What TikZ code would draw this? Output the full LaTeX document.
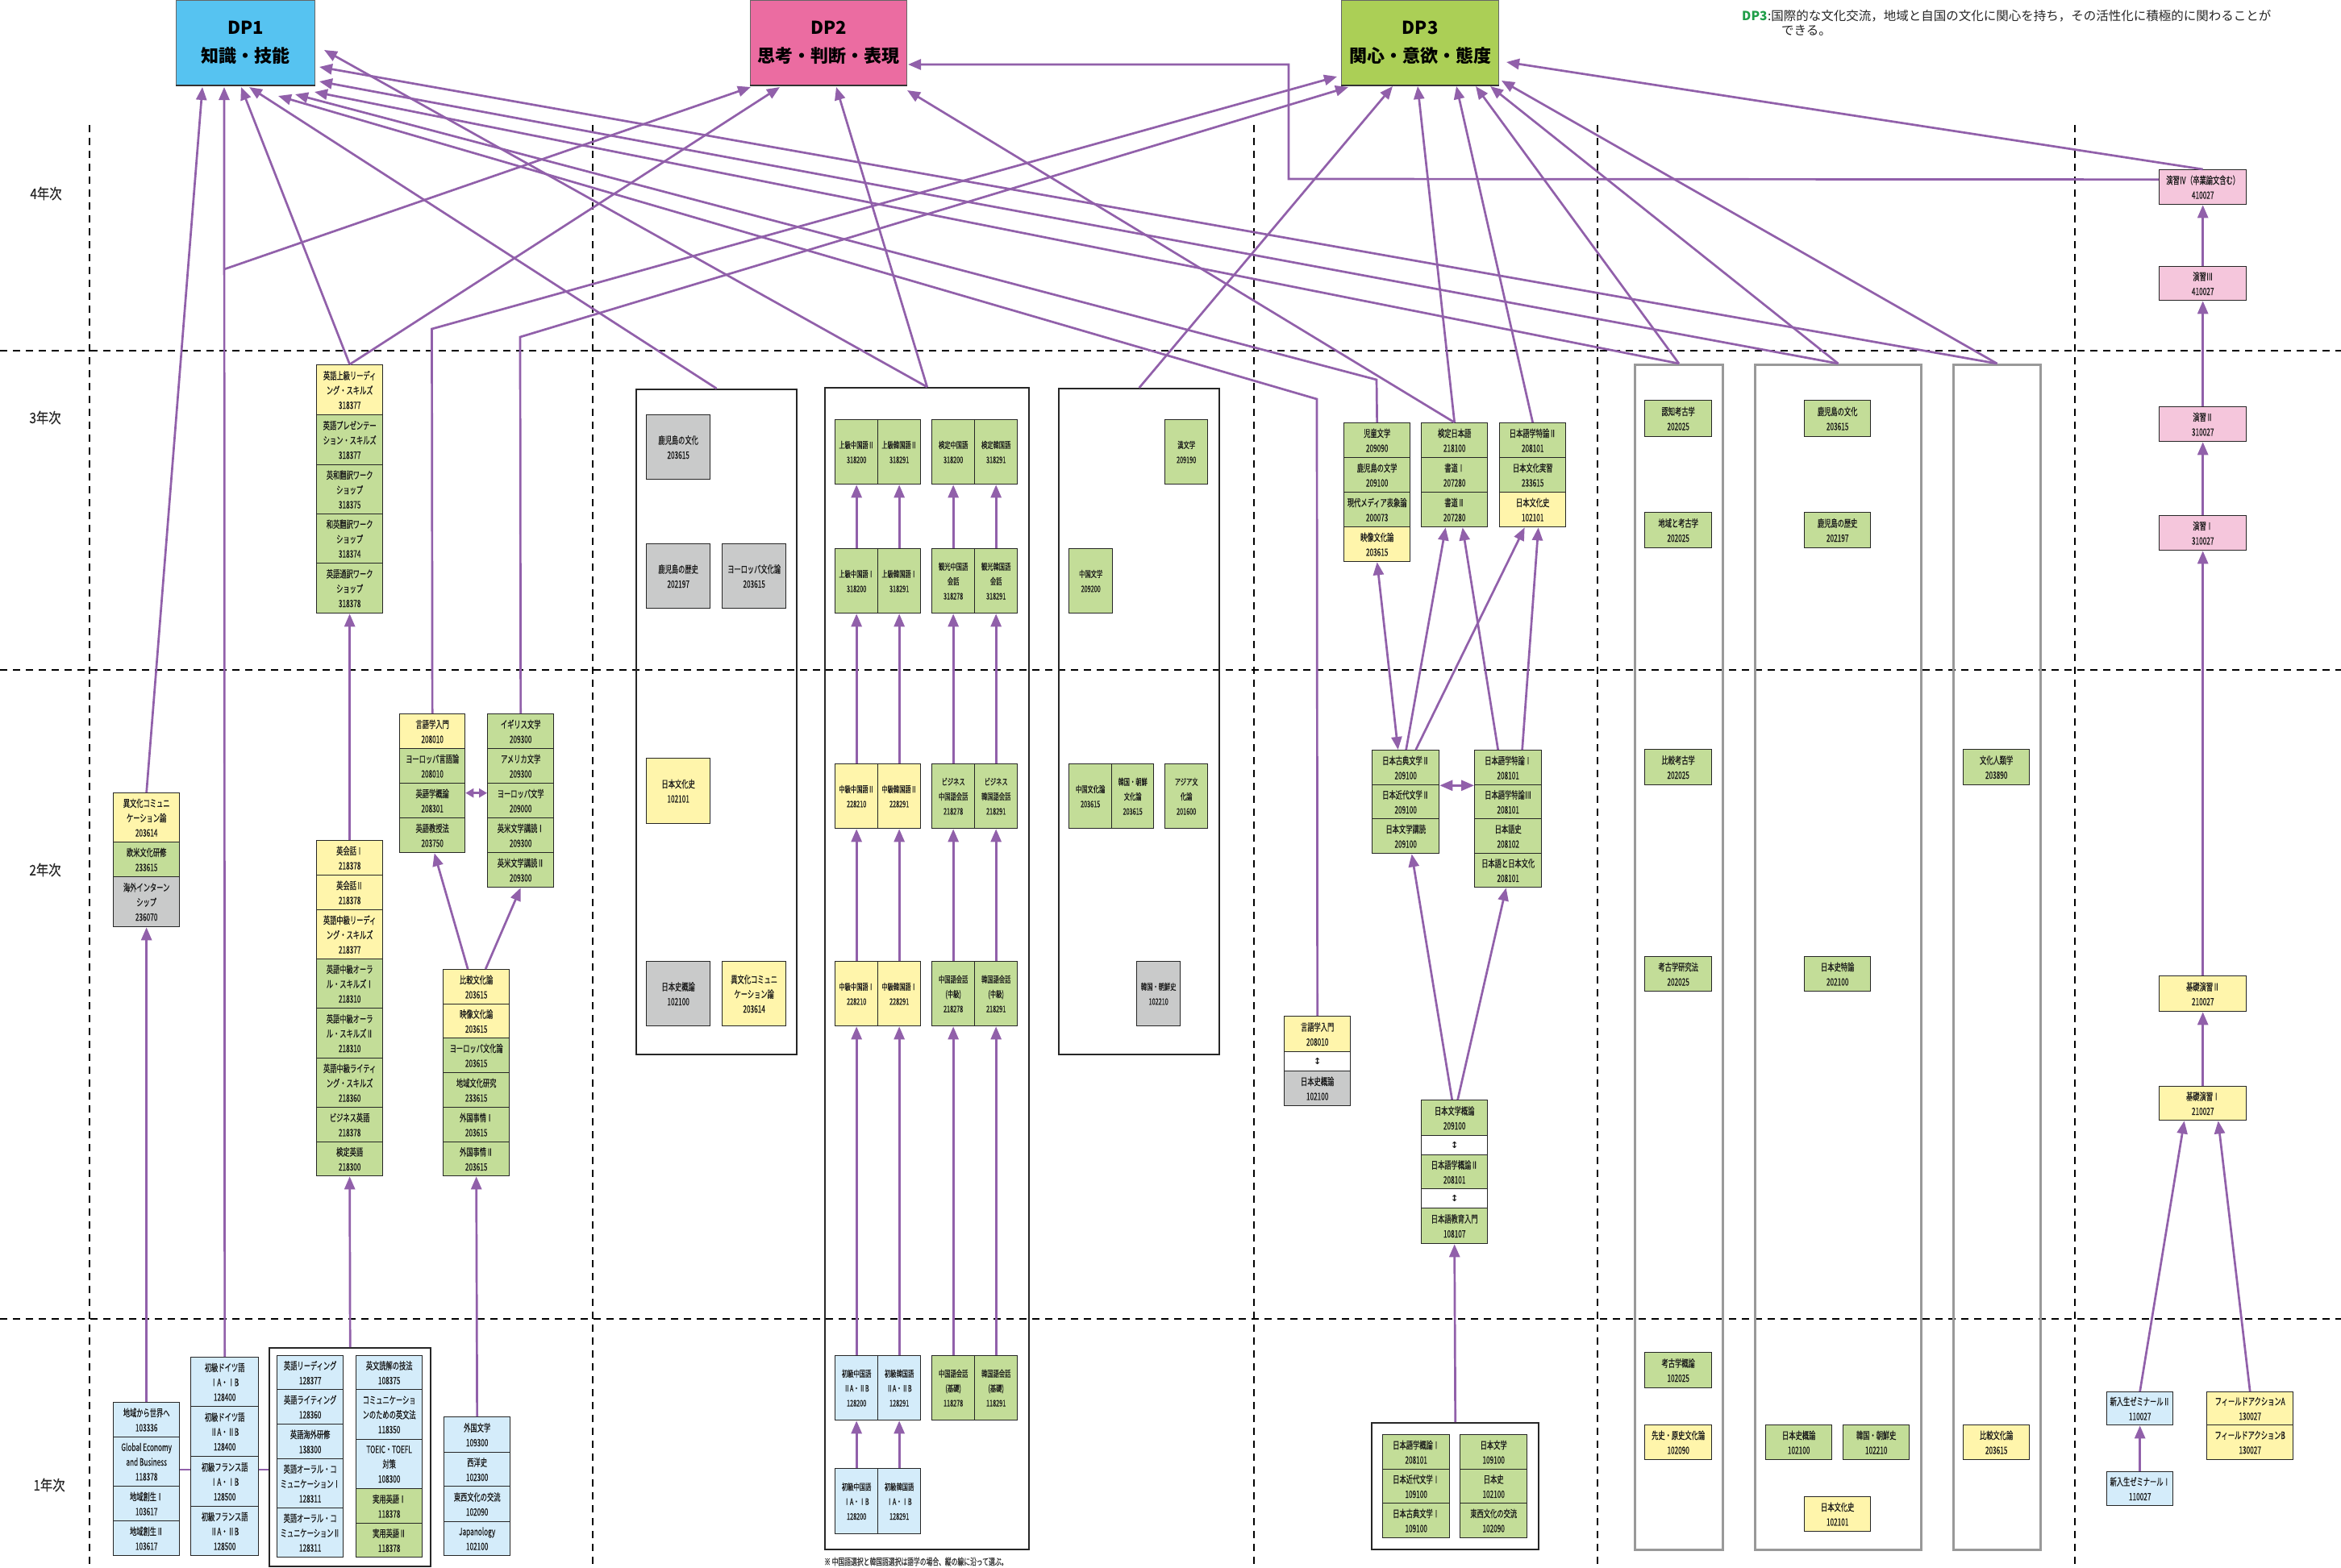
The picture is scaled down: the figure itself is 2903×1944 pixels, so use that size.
\documentclass[tikz,border=0pt]{standalone}
\usepackage{fontspec}
\usetikzlibrary{arrows.meta}
\newfontfamily\jp{Noto Sans CJK JP}[FakeStretch=0.66,FakeBold=0.4]
\newfontfamily\jpw{Noto Sans CJK JP}
\newfontfamily\jpy{Noto Sans CJK JP}[FakeStretch=0.85,FakeBold=0.4]
\newfontfamily\dvs{DejaVu Sans}
\definecolor{cY}{HTML}{FFF5AB}
\definecolor{cG}{HTML}{C3DD98}
\definecolor{cGr}{HTML}{C9CACA}
\definecolor{cB}{HTML}{D4ECFA}
\definecolor{cPk}{HTML}{F5C6DC}
\definecolor{cP}{HTML}{9160AA}
\definecolor{cDa}{HTML}{56C3F1}
\definecolor{cDb}{HTML}{EB6CA1}
\definecolor{cDc}{HTML}{ABCF56}
\definecolor{cNote}{HTML}{1F9E48}
\newcommand\bxf{\jp\fontsize{12.5}{18.3}\selectfont}
\newcommand\sbxf{\jp\fontsize{11}{18.3}\selectfont}
\newcommand\mkbox[8][]{%
  \pgfmathsetmacro\mkW{#5-#3}%
  \pgfmathsetmacro\mkH{#6-#4}%
  \node[sec,fill=#7,minimum width=\mkW pt,minimum height=\mkH pt,anchor=north west,#1] (#2) at (#3,#4) {#8};%
}
\newcommand\mkfrm[6][frm]{%
  \pgfmathsetmacro\mkW{#5-#3}%
  \pgfmathsetmacro\mkH{#6-#4}%
  \node[#1,minimum width=\mkW pt,minimum height=\mkH pt,anchor=north west] (#2) at (#3,#4) {};%
}
\tikzset{
 sec/.style={draw=black!85,line width=1.3pt,inner sep=0pt,align=center,font=\bxf,text=black!90},
 frm/.style={draw=black!85,line width=2.4pt,inner sep=0pt},
 gfrm/.style={draw=black!40,line width=3pt,inner sep=0pt},
 dpbox/.style={draw=black!60,line width=1.2pt,inner sep=0pt,align=center,text=black,font=\jpw\bfseries\fontsize{22}{35}\selectfont},
 arr/.style={draw=cP,line width=2.7pt,-{Triangle[length=16pt,width=13pt]}},
 dbl/.style={draw=cP,line width=2.7pt,{Triangle[length=16pt,width=13pt]}-{Triangle[length=16pt,width=13pt]}},
 dblsm/.style={draw=cP,line width=2.7pt,{Triangle[length=10pt,width=11pt]}-{Triangle[length=10pt,width=11pt]}},
 link/.style={draw=cP,line width=2.7pt},
 dsh/.style={draw=black,line width=2.2pt,dash pattern=on 9pt off 7pt},
 yr/.style={font=\jpy\fontsize{18}{20}\selectfont,text=black!85},
 sym/.style={font=\dvs\bfseries\fontsize{11}{12}\selectfont},
}
\begin{document}
\begin{tikzpicture}[x=1pt,y=-1pt]
\useasboundingbox (0,0) rectangle (2903,1944);
\fill[white] (0,0) rectangle (2903,1944);
% grid of years
\foreach \yy in {435,831,1636} \draw[dsh] (0,\yy) -- (2903,\yy);
\foreach \xx in {111,735,1555,1981,2573} \draw[dsh] (\xx,155) -- (\xx,1944);
\node[yr] (y4) at (57,240) {4年次};
\node[yr] (y3) at (56,518) {3年次};
\node[yr] (y2) at (56,1079) {2年次};
\node[yr] (y1) at (61,1842) {1年次};
% DP boxes
\node[dpbox,fill=cDa,minimum width=172pt,minimum height=105pt,anchor=north west] (dp1) at (218,0) {DP1\\知識・技能};
\node[dpbox,fill=cDb,minimum width=194pt,minimum height=105pt,anchor=north west] (dp2) at (930,0) {DP2\\思考・判断・表現};
\node[dpbox,fill=cDc,minimum width=195pt,minimum height=105pt,anchor=north west] (dp3) at (1663,0) {DP3\\関心・意欲・態度};
\foreach \d in {dp1,dp2,dp3} \draw[line width=2.5pt,black!80] (\d.south west) -- (\d.south east);
% note
\node[anchor=base west,font=\jpw\bfseries\fontsize{15.5}{18}\selectfont,text=cNote,inner sep=0pt] (noteh) at (2160,25) {DP3};
\node[anchor=base west,font=\jpw\fontsize{15.5}{18}\selectfont,text=black!85,inner sep=0pt] (note1) at (noteh.base east) {:国際的な文化交流，地域と自国の文化に関心を持ち，その活性化に積極的に関わることが};
\node[anchor=base west,font=\jpw\fontsize{15.5}{18}\selectfont,text=black!85,inner sep=0pt] (note2) at (2209,43) {できる。};
% ===== column 1 =====
\mkbox{A1}{140}{983}{222}{1044}{cY}{異文化コミュニ\\ケーション論\\203614}
\mkbox{A2}{140}{1044}{222}{1087}{cG}{欧米文化研修\\233615}
\mkbox{A3}{140}{1087}{222}{1149}{cGr}{海外インターン\\シップ\\236070}
\mkbox{B1}{140}{1739}{222}{1782}{cB}{地域から世界へ\\103336}
\mkbox{B2}{140}{1782}{222}{1843}{cB}{Global Economy\\and Business\\118378}
\mkbox{B3}{140}{1843}{222}{1886}{cB}{地域創生Ⅰ\\103617}
\mkbox{B4}{140}{1886}{222}{1929}{cB}{地域創生Ⅱ\\103617}
\mkbox{C1}{236}{1683}{320}{1744}{cB}{初級ドイツ語\\ⅠA・ⅠB\\128400}
\mkbox{C2}{236}{1744}{320}{1806}{cB}{初級ドイツ語\\ⅡA・ⅡB\\128400}
\mkbox{C3}{236}{1806}{320}{1868}{cB}{初級フランス語\\ⅠA・ⅠB\\128500}
\mkbox{C4}{236}{1868}{320}{1929}{cB}{初級フランス語\\ⅡA・ⅡB\\128500}
\mkfrm{frameD}{333}{1671}{533}{1942}
\mkbox{D1}{343}{1681}{425}{1723}{cB}{英語リーディング\\128377}
\mkbox{D2}{343}{1723}{425}{1766}{cB}{英語ライティング\\128360}
\mkbox{D3}{343}{1766}{425}{1809}{cB}{英語海外研修\\138300}
\mkbox{D4}{343}{1809}{425}{1870}{cB}{英語オーラル・コ\\ミュニケーションⅠ\\128311}
\mkbox{D5}{343}{1870}{425}{1931}{cB}{英語オーラル・コ\\ミュニケーションⅡ\\128311}
\mkbox{D6}{441}{1681}{523}{1723}{cB}{英文読解の技法\\108375}
\mkbox{D7}{441}{1723}{523}{1785}{cB}{コミュニケーショ\\ンのための英文法\\118350}
\mkbox{D8}{441}{1785}{523}{1846}{cB}{TOEIC・TOEFL\\対策\\108300}
\mkbox{D9}{441}{1846}{523}{1889}{cG}{実用英語Ⅰ\\118378}
\mkbox{D10}{441}{1889}{523}{1931}{cG}{実用英語Ⅱ\\118378}
\mkbox{E1}{550}{1757}{632}{1801}{cB}{外国文学\\109300}
\mkbox{E2}{550}{1801}{632}{1843}{cB}{西洋史\\102300}
\mkbox{E3}{550}{1843}{632}{1887}{cB}{東西文化の交流\\102090}
\mkbox{E4}{550}{1887}{632}{1929}{cB}{Japanology\\102100}
\mkbox{F1}{392}{1042}{474}{1085}{cY}{英会話Ⅰ\\218378}
\mkbox{F2}{392}{1085}{474}{1128}{cY}{英会話Ⅱ\\218378}
\mkbox{F3}{392}{1128}{474}{1189}{cY}{英語中級リーディ\\ング・スキルズ\\218377}
\mkbox{F4}{392}{1189}{474}{1250}{cG}{英語中級オーラ\\ル・スキルズⅠ\\218310}
\mkbox{F5}{392}{1250}{474}{1312}{cG}{英語中級オーラ\\ル・スキルズⅡ\\218310}
\mkbox{F6}{392}{1312}{474}{1373}{cG}{英語中級ライティ\\ング・スキルズ\\218360}
\mkbox{F7}{392}{1373}{474}{1416}{cG}{ビジネス英語\\218378}
\mkbox{F8}{392}{1416}{474}{1458}{cG}{検定英語\\218300}
\mkbox{G1}{392}{452}{474}{514}{cY}{英語上級リーディ\\ング・スキルズ\\318377}
\mkbox{G2}{392}{514}{474}{576}{cG}{英語プレゼンテー\\ション・スキルズ\\318377}
\mkbox{G3}{392}{576}{474}{637}{cG}{英和翻訳ワーク\\ショップ\\318375}
\mkbox{G4}{392}{637}{474}{698}{cG}{和英翻訳ワーク\\ショップ\\318374}
\mkbox{G5}{392}{698}{474}{760}{cG}{英語通訳ワーク\\ショップ\\318378}
\mkbox{N1}{495}{885}{576}{928}{cY}{言語学入門\\208010}
\mkbox{N2}{495}{928}{576}{971}{cG}{ヨーロッパ言語論\\208010}
\mkbox{N3}{495}{971}{576}{1014}{cG}{英語学概論\\208301}
\mkbox{N4}{495}{1014}{576}{1057}{cG}{英語教授法\\203750}
\mkbox{O1}{604}{885}{686}{928}{cG}{イギリス文学\\209300}
\mkbox{O2}{604}{928}{686}{971}{cG}{アメリカ文学\\209300}
\mkbox{O3}{604}{971}{686}{1014}{cG}{ヨーロッパ文学\\209000}
\mkbox{O4}{604}{1014}{686}{1057}{cG}{英米文学講読Ⅰ\\209300}
\mkbox{O5}{604}{1057}{686}{1100}{cG}{英米文学講読Ⅱ\\209300}
\mkbox{P1}{549}{1202}{631}{1245}{cY}{比較文化論\\203615}
\mkbox{P2}{549}{1245}{631}{1287}{cY}{映像文化論\\203615}
\mkbox{P3}{549}{1287}{631}{1330}{cG}{ヨーロッパ文化論\\203615}
\mkbox{P4}{549}{1330}{631}{1373}{cG}{地域文化研究\\233615}
\mkbox{P5}{549}{1373}{631}{1416}{cG}{外国事情Ⅰ\\203615}
\mkbox{P6}{549}{1416}{631}{1458}{cG}{外国事情Ⅱ\\203615}
% ===== column 2 =====
\mkfrm{frameH}{788}{482}{987}{1307}
\mkbox{H1}{801}{514}{880}{594}{cGr}{鹿児島の文化\\203615}
\mkbox{H2}{801}{674}{880}{754}{cGr}{鹿児島の歴史\\202197}
\mkbox{H3}{895}{674}{974}{754}{cGr}{ヨーロッパ文化論\\203615}
\mkbox{H4}{801}{940}{880}{1021}{cY}{日本文化史\\102101}
\mkbox{H5}{801}{1192}{880}{1272}{cGr}{日本史概論\\102100}
\mkbox{H6}{895}{1192}{974}{1272}{cY}{異文化コミュニ\\ケーション論\\203614}
\mkfrm{frameI}{1022}{480}{1275}{1921}
\mkbox[font=\sbxf]{I11}{1035}{520}{1088}{600}{cG}{上級中国語Ⅱ\\318200}
\mkbox[font=\sbxf]{I12}{1088}{520}{1141}{600}{cG}{上級韓国語Ⅱ\\318291}
\mkbox[font=\sbxf]{I13}{1155}{520}{1208}{600}{cG}{検定中国語\\318200}
\mkbox[font=\sbxf]{I14}{1208}{520}{1261}{600}{cG}{検定韓国語\\318291}
\mkbox[font=\sbxf]{I21}{1035}{680}{1088}{760}{cG}{上級中国語Ⅰ\\318200}
\mkbox[font=\sbxf]{I22}{1088}{680}{1141}{760}{cG}{上級韓国語Ⅰ\\318291}
\mkbox[font=\sbxf]{I23}{1155}{680}{1208}{760}{cG}{観光中国語\\会話\\318278}
\mkbox[font=\sbxf]{I24}{1208}{680}{1261}{760}{cG}{観光韓国語\\会話\\318291}
\mkbox[font=\sbxf]{I31}{1035}{947}{1088}{1027}{cY}{中級中国語Ⅱ\\228210}
\mkbox[font=\sbxf]{I32}{1088}{947}{1141}{1027}{cY}{中級韓国語Ⅱ\\228291}
\mkbox[font=\sbxf]{I33}{1155}{947}{1208}{1027}{cG}{ビジネス\\中国語会話\\218278}
\mkbox[font=\sbxf]{I34}{1208}{947}{1261}{1027}{cG}{ビジネス\\韓国語会話\\218291}
\mkbox[font=\sbxf]{I41}{1035}{1192}{1088}{1272}{cY}{中級中国語Ⅰ\\228210}
\mkbox[font=\sbxf]{I42}{1088}{1192}{1141}{1272}{cY}{中級韓国語Ⅰ\\228291}
\mkbox[font=\sbxf]{I43}{1155}{1192}{1208}{1272}{cG}{中国語会話\\(中級)\\218278}
\mkbox[font=\sbxf]{I44}{1208}{1192}{1261}{1272}{cG}{韓国語会話\\(中級)\\218291}
\mkbox[font=\sbxf]{I51}{1035}{1681}{1088}{1761}{cB}{初級中国語\\ⅡA・ⅡB\\128200}
\mkbox[font=\sbxf]{I52}{1088}{1681}{1141}{1761}{cB}{初級韓国語\\ⅡA・ⅡB\\128291}
\mkbox[font=\sbxf]{I53}{1155}{1681}{1208}{1761}{cG}{中国語会話\\(基礎)\\118278}
\mkbox[font=\sbxf]{I54}{1208}{1681}{1261}{1761}{cG}{韓国語会話\\(基礎)\\118291}
\mkbox[font=\sbxf]{I61}{1035}{1821}{1088}{1902}{cB}{初級中国語\\ⅠA・ⅠB\\128200}
\mkbox[font=\sbxf]{I62}{1088}{1821}{1141}{1902}{cB}{初級韓国語\\ⅠA・ⅠB\\128291}
\node[anchor=west,font=\jp\fontsize{11.8}{14}\selectfont,text=black!80,inner sep=0pt] (foot) at (1022,1937) {※ 中国語選択と韓国語選択は語学の場合、縦の線に沿って選ぶ。};
\mkfrm{frameJ}{1312}{481}{1511}{1307}
\mkbox[font=\sbxf]{J1}{1444}{520}{1497}{600}{cG}{漢文学\\209190}
\mkbox[font=\sbxf]{J2}{1325}{680}{1379}{760}{cG}{中国文学\\209200}
\mkbox[font=\sbxf]{J3}{1325}{947}{1378}{1027}{cG}{中国文化論\\203615}
\mkbox[font=\sbxf]{J4}{1378}{947}{1430}{1027}{cG}{韓国・朝鮮\\文化論\\203615}
\mkbox[font=\sbxf]{J5}{1444}{947}{1497}{1027}{cG}{アジア文\\化論\\201600}
\mkbox[font=\sbxf]{J6}{1409}{1192}{1463}{1272}{cGr}{韓国・朝鮮史\\102210}
% ===== DP3 column =====
\mkbox{Q1}{1666}{524}{1748}{567}{cG}{児童文学\\209090}
\mkbox{Q2}{1666}{567}{1748}{610}{cG}{鹿児島の文学\\209100}
\mkbox{Q3}{1666}{610}{1748}{653}{cG}{現代メディア表象論\\200073}
\mkbox{Q4}{1666}{653}{1748}{696}{cY}{映像文化論\\203615}
\mkbox{R1}{1762}{524}{1844}{567}{cG}{検定日本語\\218100}
\mkbox{R2}{1762}{567}{1844}{610}{cG}{書道Ⅰ\\207280}
\mkbox{R3}{1762}{610}{1844}{653}{cG}{書道Ⅱ\\207280}
\mkbox{S1}{1859}{524}{1941}{567}{cG}{日本語学特論Ⅱ\\208101}
\mkbox{S2}{1859}{567}{1941}{610}{cG}{日本文化実習\\233615}
\mkbox{S3}{1859}{610}{1941}{653}{cY}{日本文化史\\102101}
\mkbox{T1}{1701}{930}{1784}{973}{cG}{日本古典文学Ⅱ\\209100}
\mkbox{T2}{1701}{973}{1784}{1015}{cG}{日本近代文学Ⅱ\\209100}
\mkbox{T3}{1701}{1015}{1784}{1058}{cG}{日本文学講読\\209100}
\mkbox{U1}{1828}{930}{1911}{973}{cG}{日本語学特論Ⅰ\\208101}
\mkbox{U2}{1828}{973}{1911}{1015}{cG}{日本語学特論Ⅲ\\208101}
\mkbox{U3}{1828}{1015}{1911}{1058}{cG}{日本語史\\208102}
\mkbox{U4}{1828}{1058}{1911}{1100}{cG}{日本語と日本文化\\208101}
\mkbox{V1}{1762}{1364}{1844}{1408}{cG}{日本文学概論\\209100}
\mkbox[sym]{V2}{1762}{1408}{1844}{1432}{white}{↕}
\mkbox{V3}{1762}{1432}{1844}{1474}{cG}{日本語学概論Ⅱ\\208101}
\mkbox[sym]{V4}{1762}{1474}{1844}{1498}{white}{↕}
\mkbox{V5}{1762}{1498}{1844}{1542}{cG}{日本語教育入門\\108107}
\mkbox{W1}{1592}{1260}{1674}{1304}{cY}{言語学入門\\208010}
\mkbox[sym]{W2}{1592}{1304}{1674}{1328}{white}{↕}
\mkbox{W3}{1592}{1328}{1674}{1371}{cGr}{日本史概論\\102100}
\mkfrm{frameX}{1700}{1764}{1907}{1921}
\mkbox{X1}{1714}{1779}{1797}{1822}{cG}{日本語学概論Ⅰ\\208101}
\mkbox{X2}{1714}{1822}{1797}{1864}{cG}{日本近代文学Ⅰ\\109100}
\mkbox{X3}{1714}{1864}{1797}{1907}{cG}{日本古典文学Ⅰ\\109100}
\mkbox{X4}{1810}{1779}{1893}{1822}{cG}{日本文学\\109100}
\mkbox{X5}{1810}{1822}{1893}{1864}{cG}{日本史\\102100}
\mkbox{X6}{1810}{1864}{1893}{1907}{cG}{東西文化の交流\\102090}
% ===== right frames =====
\mkfrm[gfrm]{frameK}{2026}{451}{2135}{1921}
\mkbox{K1}{2039}{496}{2122}{541}{cG}{認知考古学\\202025}
\mkbox{K2}{2039}{635}{2122}{679}{cG}{地域と考古学\\202025}
\mkbox{K3}{2039}{929}{2122}{973}{cG}{比較考古学\\202025}
\mkbox{K4}{2039}{1186}{2122}{1229}{cG}{考古学研究法\\202025}
\mkbox{K5}{2039}{1677}{2122}{1721}{cG}{考古学概論\\102025}
\mkbox{K6}{2039}{1767}{2122}{1810}{cY}{先史・原史文化論\\102090}
\mkfrm[gfrm]{frameL}{2175}{451}{2381}{1921}
\mkbox{L1}{2237}{496}{2319}{541}{cG}{鹿児島の文化\\203615}
\mkbox{L2}{2237}{635}{2319}{679}{cG}{鹿児島の歴史\\202197}
\mkbox{L3}{2237}{1186}{2319}{1229}{cG}{日本史特論\\202100}
\mkbox{L4}{2189}{1767}{2271}{1810}{cG}{日本史概論\\102100}
\mkbox{L5}{2285}{1767}{2367}{1810}{cG}{韓国・朝鮮史\\102210}
\mkbox{L6}{2237}{1856}{2319}{1899}{cY}{日本文化史\\102101}
\mkfrm[gfrm]{frameM}{2421}{451}{2529}{1921}
\mkbox{M1}{2434}{929}{2516}{973}{cG}{文化人類学\\203890}
\mkbox{M2}{2434}{1767}{2516}{1810}{cY}{比較文化論\\203615}
% ===== seminar column =====
\mkbox{Z1}{2677}{210}{2785}{253}{cPk}{演習Ⅳ（卒業論文含む）\\410027}
\mkbox{Z2}{2677}{330}{2785}{372}{cPk}{演習Ⅲ\\410027}
\mkbox{Z3}{2677}{504}{2785}{547}{cPk}{演習Ⅱ\\310027}
\mkbox{Z4}{2677}{639}{2785}{682}{cPk}{演習Ⅰ\\310027}
\mkbox{Z5}{2677}{1210}{2785}{1254}{cY}{基礎演習Ⅱ\\210027}
\mkbox{Z6}{2677}{1347}{2785}{1389}{cY}{基礎演習Ⅰ\\210027}
\mkbox{Z7}{2612}{1726}{2694}{1767}{cB}{新入生ゼミナールⅡ\\110027}
\mkbox{Z8}{2612}{1825}{2694}{1867}{cB}{新入生ゼミナールⅠ\\110027}
\mkbox{Z9}{2736}{1726}{2843}{1767}{cY}{フィールドアクションA\\130027}
\mkbox{Z10}{2736}{1767}{2843}{1810}{cY}{フィールドアクションB\\130027}
% ===== coordinates =====
\coordinate (t1a) at (251,108);
\coordinate (t1b) at (278,108);
\coordinate (t1c) at (299,108);
\coordinate (t1d) at (309,108);
\coordinate (t1e) at (402,62);
\coordinate (t1f) at (345,119);
\coordinate (t1g) at (366,117);
\coordinate (t1h) at (390,114);
\coordinate (t1i) at (396,101);
\coordinate (t1j) at (396,83);
\coordinate (t2a) at (931,108);
\coordinate (t2b) at (967,108);
\coordinate (t2c) at (1037,108);
\coordinate (t2d) at (1125,112);
\coordinate (t2e) at (1126,80);
\coordinate (t3a) at (1658,95);
\coordinate (t3b) at (1672,108);
\coordinate (t3c) at (1727,107);
\coordinate (t3d) at (1758,107);
\coordinate (t3e) at (1806,107);
\coordinate (t3f) at (1830,107);
\coordinate (t3g) at (1848,107);
\coordinate (t3h) at (1862,100);
\coordinate (t3i) at (1868,77);
\coordinate (cbr) at (278,334);
\coordinate (nb) at (535.5,408);
\coordinate (ob) at (645,418);
\coordinate (wb) at (1633,495);
\coordinate (qb) at (1707,471);
\coordinate (e1) at (1598,222);
\coordinate (e2) at (1598,80);
\coordinate (lk) at (0,1823);
% ===== connectors =====
\draw[link] (B2.east |- lk) -- (C3.west |- lk);
\draw[link] (C3.east |- lk) -- (frameD.west |- lk);
\draw[arr] (B1.north) -- (A3.south);
\draw[arr] (A1.north) -- (t1a);
\draw[arr] (C1.north) -- (t1b);
\draw[arr] (cbr) -- (t2a);
\draw[arr] (frameD.north) -- (F8.south);
\draw[arr] (F1.north) -- (G5.south);
\draw[arr] (G1.north) -- (t1c);
\draw[arr] (G1.north) -- (t2b);
\draw[arr] (E1.north) -- (P6.south);
\draw[arr] ([xshift=-10.5pt]P1.north) -- ([xshift=2.5pt]N4.south);
\draw[arr] ([xshift=11.5pt]P1.north) -- (O5.south);
\draw[dblsm] ([yshift=9.5pt]N3.east) -- ([yshift=9.5pt]O3.west);
\draw[arr] (N1.north) -- (nb) -- (t3a);
\draw[arr] (O1.north) -- (ob) -- (t3b);
\draw[arr] (frameH.north) -- (t1d);
\draw[arr] (frameI.north) -- (t1e);
\draw[arr] (frameI.north) -- (t2c);
\foreach \lo/\hi in {I21/I11,I22/I12,I23/I13,I24/I14,I31/I21,I32/I22,I33/I23,I34/I24,I41/I31,I42/I32,I43/I33,I44/I34,I51/I41,I52/I42,I53/I43,I54/I44,I61/I51,I62/I52}
  \draw[arr] (\lo.north) -- (\hi.south);
\draw[arr] (frameJ.north) -- (t3c);
\draw[arr] (W1.north) -- (wb) -- (t1f);
\draw[arr] (Q1.north) -- (qb) -- (t1g);
\draw[arr] (R1.north) -- (t2d);
\draw[arr] (R1.north) -- (t3d);
\draw[arr] (S1.north) -- (t3e);
\draw[dbl] (Q4.south) -- ([xshift=-9.5pt]T1.north);
\draw[arr] ([xshift=0.5pt]T1.north) -- ([xshift=-11pt]R3.south);
\draw[arr] ([xshift=12.5pt]T1.north) -- ([xshift=-10pt]S3.south);
\draw[arr] ([xshift=-12.5pt]U1.north) -- ([xshift=10pt]R3.south);
\draw[arr] ([xshift=17.5pt]U1.north) -- ([xshift=7pt]S3.south);
\draw[dbl] (T1.south east) -- (U1.south west);
\draw[arr] ([xshift=-3pt]V1.north) -- ([xshift=7.5pt]T3.south);
\draw[arr] ([xshift=4pt]V1.north) -- ([xshift=-2.5pt]U4.south);
\draw[arr] (frameX.north) -- (V5.south);
\draw[arr] (frameK.north) -- (t1h);
\draw[arr] (frameK.north) -- (t3f);
\draw[arr] (frameL.north) -- (t1i);
\draw[arr] (frameL.north) -- (t3g);
\draw[arr] (frameM.north) -- (t1j);
\draw[arr] (frameM.north) -- (t3h);
\draw[arr] (Z2.north) -- (Z1.south);
\draw[arr] (Z3.north) -- (Z2.south);
\draw[arr] (Z4.north) -- (Z3.south);
\draw[arr] (Z5.north) -- (Z4.south);
\draw[arr] (Z6.north) -- (Z5.south);
\draw[arr] (Z7.north) -- ([xshift=-23pt]Z6.south);
\draw[arr] (Z9.north) -- ([xshift=19pt]Z6.south);
\draw[arr] (Z8.north) -- (Z7.south);
\draw[arr] (Z1.north) -- (t3i);
\draw[arr] ([yshift=9.5pt]Z1.west) -- (e1) -- (e2) -- (t2e);
\end{tikzpicture}
\end{document}
